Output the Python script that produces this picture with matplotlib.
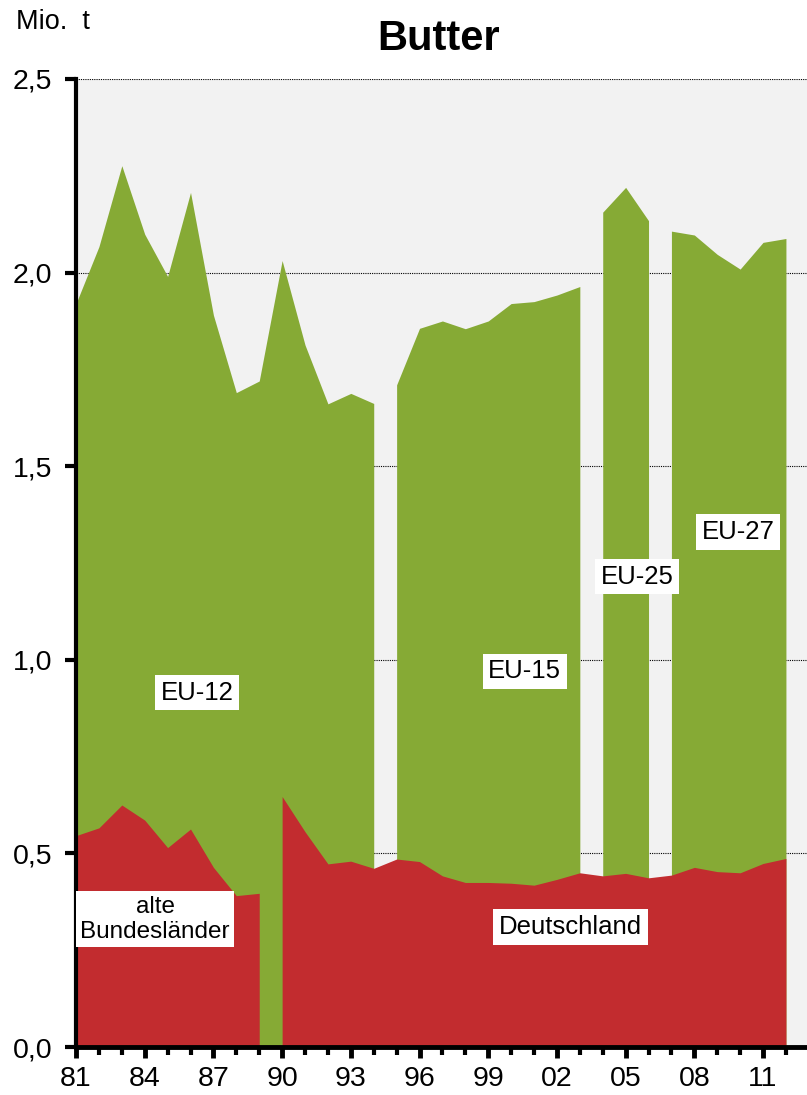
import matplotlib.pyplot as plt
import numpy as np

plt.rcParams['font.family'] = ['Liberation Sans', 'DejaVu Sans']

# EU totals (Mio. t), one list per member block
eu12_years = list(range(1981, 1995))
eu12 = [1.92, 2.067, 2.276, 2.099, 1.99, 2.207, 1.89, 1.69, 1.72, 2.031, 1.813, 1.661, 1.688, 1.662]
eu15_years = list(range(1995, 2004))
eu15 = [1.71, 1.856, 1.875, 1.855, 1.875, 1.92, 1.925, 1.942, 1.964]
eu25_years = [2004, 2005, 2006]
eu25 = [2.156, 2.22, 2.134]
eu27_years = list(range(2007, 2013))
eu27 = [2.107, 2.097, 2.047, 2.009, 2.078, 2.088]

# Germany
west_years = list(range(1981, 1990))
west = [0.546, 0.566, 0.625, 0.586, 0.515, 0.563, 0.464, 0.391, 0.397]
de_years = list(range(1990, 2013))
de = [0.647, 0.556, 0.473, 0.480, 0.4615, 0.4855, 0.479, 0.442, 0.425, 0.425,
      0.423, 0.418, 0.433, 0.450, 0.442, 0.4485, 0.437, 0.444, 0.464, 0.453,
      0.450, 0.474, 0.487]

green = '#86AA35'
red = '#C22C2F'

fig = plt.figure(figsize=(8.07, 10.95), dpi=100)
ax = fig.add_axes([0.0942, 0.0438, 1 - 0.0942, 0.8841])
ax.set_facecolor('#F2F2F2')

for yrs, vals in [(eu12_years, eu12), (eu15_years, eu15), (eu25_years, eu25), (eu27_years, eu27)]:
    ax.fill_between(yrs, 0, vals, color=green, linewidth=0, zorder=2)
for yrs, vals in [(west_years, west), (de_years, de)]:
    ax.fill_between(yrs, 0, vals, color=red, linewidth=0, zorder=3)

ax.set_xlim(1981, 2012.92)
ax.set_ylim(0, 2.5)
ax.set_yticks(np.arange(0, 2.51, 0.5))
ax.set_yticklabels(['0,0', '0,5', '1,0', '1,5', '2,0', '2,5'])
ax.set_xticks(range(1981, 2012, 3))
ax.set_xticklabels(['81', '84', '87', '90', '93', '96', '99', '02', '05', '08', '11'])
ax.set_xticks(range(1981, 2013), minor=True)
ax.yaxis.grid(True, linestyle=(0, (1, 1)), color='black', linewidth=0.8, zorder=1)
ax.set_axisbelow(True)

for s in ['top', 'right']:
    ax.spines[s].set_visible(False)
ax.spines['left'].set_linewidth(3)
ax.spines['bottom'].set_linewidth(3.5)
ax.spines['left'].set_zorder(5)
ax.spines['bottom'].set_zorder(5)
ax.tick_params(axis='y', direction='out', length=8, width=3, labelsize=20.5, pad=9)
ax.tick_params(axis='x', which='major', direction='inout', length=16, width=3.5, labelsize=20.5, pad=6)
ax.tick_params(axis='x', which='minor', direction='out', length=6, width=3)

box = dict(facecolor='white', edgecolor='none', pad=4)
fs = 18.5
ax.text(1986.3, 0.915, 'EU-12', fontsize=fs, ha='center', va='center', bbox=box, zorder=6)
ax.text(2000.6, 0.97, 'EU-15', fontsize=fs, ha='center', va='center', bbox=box, zorder=6)
ax.text(2005.5, 1.215, 'EU-25', fontsize=fs, ha='center', va='center', bbox=box, zorder=6)
ax.text(2009.9, 1.33, 'EU-27', fontsize=fs, ha='center', va='center', bbox=box, zorder=6)
ax.text(1984.45, 0.33, 'alte\nBundesländer', fontsize=17.5, ha='center', va='center',
        bbox=dict(facecolor='white', edgecolor='none', pad=3), zorder=6, linespacing=1.2)
ax.text(2002.6, 0.31, 'Deutschland', fontsize=fs, ha='center', va='center', bbox=box, zorder=6)

fig.text(0.543, 0.964, 'Butter', fontsize=30, fontweight='bold', ha='center', va='center')
fig.text(0.02, 0.98, 'Mio.  t', fontsize=19.5, ha='left', va='center')

fig.savefig('out.png', dpi=100)
